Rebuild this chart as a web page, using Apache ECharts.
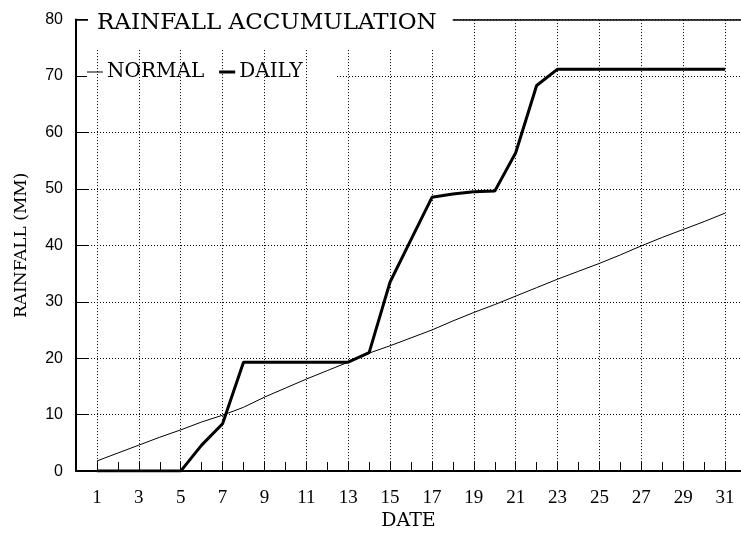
<!DOCTYPE html>
<html>
<head>
<meta charset="utf-8">
<script src="https://cdn.jsdelivr.net/npm/echarts@6/dist/echarts.min.js"></script>
<style>
html,body{margin:0;padding:0;background:#fff;}
#chart{width:741px;height:536px;}
</style>
</head>
<body>
<div id="chart"></div>
<script>
var days = [1,2,3,4,5,6,7,8,9,10,11,12,13,14,15,16,17,18,19,20,21,22,23,24,25,26,27,28,29,30,31];
var normal = [1.8,3.2,4.6,6.0,7.3,8.7,9.9,11.3,13.1,14.7,16.3,17.8,19.3,20.9,22.2,23.6,25.0,26.6,28.1,29.5,31.0,32.5,34.0,35.4,36.8,38.3,39.9,41.4,42.8,44.2,45.7];
var daily = [0,0,0,0,0,4.6,8.4,19.3,19.3,19.3,19.3,19.3,19.3,21.0,33.5,41.0,48.5,49.1,49.5,49.6,56.4,68.3,71.2,71.2,71.2,71.2,71.2,71.2,71.2,71.2,71.2];
var xTickLabels = ['1','3','5','7','9','11','13','15','17','19','21','23','25','27','29','31'];
var yTickLabels = ['0','10','20','30','40','50','60','70','80'];

var SERIF = '"DejaVu Serif", serif';
var chart = echarts.init(document.getElementById('chart'));

function pairs(vals){ return days.map(function(d,i){ return [d, vals[i]]; }); }

var option = {
  animation: false,
  backgroundColor: '#fff',
  title: {
    text: 'RAINFALL ACCUMULATION',
    left: 88, top: 0,
    padding: [12, 16, 15, 9],
    backgroundColor: '#fff',
    textStyle: {fontFamily: SERIF, fontSize: 23, fontWeight: 'normal', color: '#000', lineHeight: 23}
  },
  legend: {
    left: 87, top: 50,
    padding: [12, 34, 13, 0],
    backgroundColor: '#fff',
    itemWidth: 16, itemHeight: 10, itemGap: 15,
    symbolKeepAspect: true,
    data: [
      {name: 'NORMAL', icon: 'path://M0,0L16,0L16,1L0,1Z'},
      {name: 'DAILY', icon: 'path://M0,0L16,0L16,3L0,3Z'}
    ],
    textStyle: {fontFamily: SERIF, fontSize: 20, color: '#000', padding: [0,0,0,-1]}
  },
  grid: {left: 76, right: 0, top: 19.5, bottom: 63.5, containLabel: false},
  xAxis: [{
    type: 'value', min: 0, max: 31.76, interval: 1,
    name: 'DATE', nameLocation: 'middle', nameGap: 40,
    nameTextStyle: {fontFamily: SERIF, fontSize: 19, color: '#000'},
    axisLine: {show: true, lineStyle: {color: '#000', width: 2}},
    axisTick: {show: true, inside: true, length: 9},
    axisLabel: {
      show: true, margin: 17, color: '#000', fontFamily: '"Liberation Serif", serif', fontSize: 19,
      showMaxLabel: false,
      formatter: function(v){ var s = String(v); return xTickLabels.indexOf(s) >= 0 ? s : ''; }
    },
    splitLine: {show: false}
  }, {
    type: 'value', min: 0, max: 31.76, position: 'top',
    axisLine: {show: true, lineStyle: {color: '#000', width: 1.5}},
    axisTick: {show: false}, axisLabel: {show: false}, splitLine: {show: false}
  }],
  yAxis: {
    type: 'value', min: 0, max: 80, interval: 10,
    name: 'RAINFALL (MM)', nameLocation: 'middle', nameGap: 46,
    nameTextStyle: {fontFamily: SERIF, fontSize: 17, color: '#000'},
    axisLine: {show: true, lineStyle: {color: '#000', width: 2}},
    axisTick: {show: true, inside: true, length: 12},
    axisLabel: {
      show: true, margin: 13, color: '#000', fontFamily: '"Liberation Sans", Arial, sans-serif', fontSize: 16,
      formatter: function(v){ var s = String(v); return yTickLabels.indexOf(s) >= 0 ? s : ''; }
    },
    splitLine: {show: true, lineStyle: {color: '#000', width: 1, type: [1, 2]}}
  },
  series: [{
    name: 'grid', type: 'line', data: [], silent: true,
    markLine: {
      silent: true, symbol: 'none', animation: false,
      label: {show: false},
      lineStyle: {color: '#000', width: 1, type: [1, 2]},
      data: xTickLabels.map(function(s){ return {xAxis: Number(s)}; })
    }
  }, {
    name: 'NORMAL', type: 'line', data: pairs(normal), symbol: 'none',
    lineStyle: {color: '#000', width: 1}, itemStyle: {color: '#000'}
  }, {
    name: 'DAILY', type: 'line', data: pairs(daily), symbol: 'none',
    lineStyle: {color: '#000', width: 3}, itemStyle: {color: '#000'}
  }]
};
chart.setOption(option);
</script>
</body>
</html>
